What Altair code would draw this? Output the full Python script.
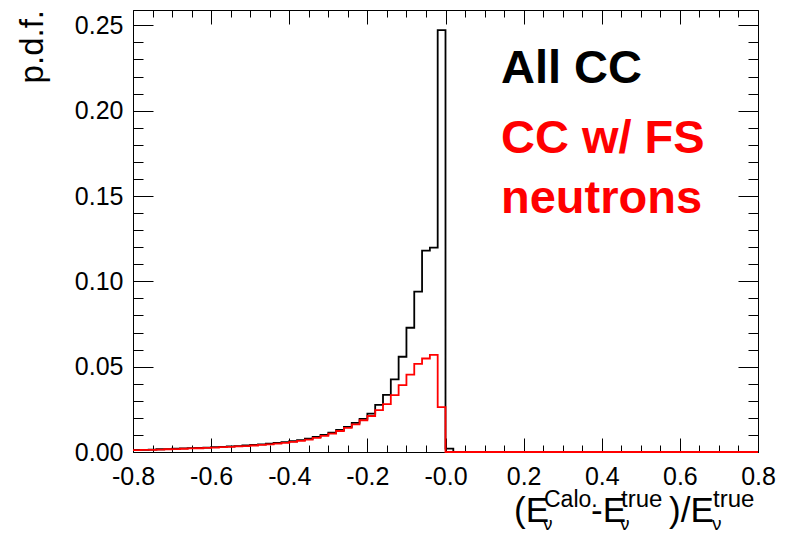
import altair as alt
import pandas as pd

# ---- data ----
bin_low = [round(-0.8 + 0.02 * i, 2) for i in range(80)]

all_cc_neg = [0.0012, 0.0013, 0.0014, 0.0016, 0.0017, 0.0019, 0.0021, 0.0023, 0.0024, 0.0026,
              0.0028, 0.0030, 0.0033, 0.0035, 0.0038, 0.0041, 0.0045, 0.0049, 0.0053, 0.0058,
              0.0063, 0.0070, 0.0078, 0.0088, 0.0100, 0.0114, 0.0129, 0.0147, 0.0171, 0.0194,
              0.0225, 0.0276, 0.0335, 0.0426, 0.0558, 0.0728, 0.0940, 0.1180, 0.1198, 0.2472]
all_cc_pos = [0.0020] + [0.0] * 39

fs_n_neg = [0.0011, 0.0012, 0.0013, 0.0014, 0.0016, 0.0017, 0.0019, 0.0021, 0.0022, 0.0024,
            0.0026, 0.0028, 0.0030, 0.0033, 0.0035, 0.0038, 0.0042, 0.0045, 0.0049, 0.0054,
            0.0059, 0.0065, 0.0073, 0.0083, 0.0095, 0.0108, 0.0123, 0.0141, 0.0162, 0.0186,
            0.0211, 0.0245, 0.0281, 0.0333, 0.0392, 0.0453, 0.0516, 0.0548, 0.0569, 0.0263]
fs_n_pos = [0.0] * 40

x_major = [-0.8, -0.6, -0.4, -0.2, 0.0, 0.2, 0.4, 0.6, 0.8]
x_minor = [round(-0.8 + 0.05 * i, 2) for i in range(33)]
y_major = [0.0, 0.05, 0.10, 0.15, 0.20, 0.25]
y_minor = [round(0.01 * i, 2) for i in range(26)]

all_cc = all_cc_neg + all_cc_pos
fs_n = fs_n_neg + fs_n_pos

rows = []
for name, vals in [("All CC", all_cc), ("CC w/ FS neutrons", fs_n)]:
    for i, (x, v) in enumerate(zip(bin_low, vals)):
        rows.append({"series": name, "x": x, "y": v, "o": i})
    rows.append({"series": name, "x": 0.8, "y": vals[-1], "o": 80})
df = pd.DataFrame(rows)

W, H = 625, 442
FONT = "Liberation Sans"
xs = alt.Scale(domain=[-0.8, 0.8], nice=False, zero=False)
ys = alt.Scale(domain=[0, 0.259], nice=False, zero=True)

label_expr = "abs(datum.value) < 0.001 ? '-0.0' : (datum.value < 0 ? '-' + format(-datum.value, '.1f') : format(datum.value, '.1f'))"


def xaxis(orient, size, values, labels=False):
    kw = dict(orient=orient, values=values, tickSize=size, offset=-size, domain=False, grid=False,
              tickColor="black", tickWidth=1, labels=labels, title=None)
    if labels:
        kw.update(labelExpr=label_expr, labelFont=FONT, labelFontSize=25, labelColor="black",
                  labelPadding=12, labelFlush=False, labelOverlap=False)
    return alt.Axis(**kw)


def yaxis(orient, size, values, labels=False):
    kw = dict(orient=orient, values=values, tickSize=size, offset=-size, domain=False, grid=False,
              tickColor="black", tickWidth=1, labels=labels, title=None)
    if labels:
        kw.update(format=".2f", labelFont=FONT, labelFontSize=25, labelColor="black",
                  labelPadding=10, labelFlush=False, labelOverlap=False)
    return alt.Axis(**kw)


black = alt.Chart(df).transform_filter(alt.datum.series == "All CC").mark_line(
    interpolate="step-after", color="black", strokeWidth=1.8
).encode(
    x=alt.X("x:Q", scale=xs, axis=xaxis("bottom", 14, x_major, labels=True)),
    y=alt.Y("y:Q", scale=ys, axis=yaxis("left", 20, y_major, labels=True)),
    order="o:Q",
)

red = alt.Chart(df).transform_filter(alt.datum.series != "All CC").mark_line(
    interpolate="step-after", color="#ff0000", strokeWidth=1.8
).encode(
    x=alt.X("x:Q", scale=xs, axis=xaxis("bottom", 7, x_minor)),
    y=alt.Y("y:Q", scale=ys, axis=yaxis("left", 10, y_minor)),
    order="o:Q",
)

inv1 = alt.Chart(df).mark_point(opacity=0).encode(
    x=alt.X("x:Q", scale=xs, axis=xaxis("top", 14, x_major)),
    y=alt.Y("y:Q", scale=ys, axis=yaxis("right", 20, y_major)),
)
inv2 = alt.Chart(df).mark_point(opacity=0).encode(
    x=alt.X("x:Q", scale=xs, axis=xaxis("top", 7, x_minor)),
    y=alt.Y("y:Q", scale=ys, axis=yaxis("right", 10, y_minor)),
)

OX, OY = 133, 10  # page position of the plot origin


def txt(s, px, py, size, color="black", bold=False, angle=0, align="left"):
    kw = dict(text=s, font=FONT, fontSize=size, color=color, align=align, baseline="alphabetic",
              fontWeight="bold" if bold else "normal")
    if angle:
        kw["angle"] = angle
    return alt.Chart(pd.DataFrame({"a": [0]})).mark_text(**kw).encode(
        x=alt.value(px - OX), y=alt.value(py - OY))


SUP_Y, MAIN_Y, SUB_Y = 507, 522, 530
texts = [
    txt("All CC", 501, 83, 47, bold=True),
    txt("CC w/ FS", 501, 153, 47, color="#ff0000", bold=True),
    txt("neutrons", 501, 213, 47, color="#ff0000", bold=True),
    txt("p.d.f.", 43, 10, 33, angle=270, align="right"),
    # x title: (E_nu^Calo. - E_nu^true)/E_nu^true
    txt("(E", 514, MAIN_Y, 35),
    txt("Calo.", 544, SUP_Y, 23),
    txt("ν", 543, SUB_Y, 19),
    txt("-E", 591, MAIN_Y, 35),
    txt("true", 621, SUP_Y, 24),
    txt("ν", 620, SUB_Y, 19),
    txt(")/E", 669, MAIN_Y, 35),
    txt("true", 713, SUP_Y, 24),
    txt("ν", 712, SUB_Y, 19),
]

chart = alt.layer(black, red, inv1, inv2, *texts).resolve_axis(
    x="independent", y="independent"
).properties(
    width=W, height=H,
    autosize=alt.AutoSizeParams(type="none"),
    padding={"left": 125, "top": 2, "right": 26, "bottom": 79},
    background="white",
).configure_view(stroke="black", strokeWidth=1)

chart.save("out.html", embed_options={"renderer": "svg", "actions": False})
